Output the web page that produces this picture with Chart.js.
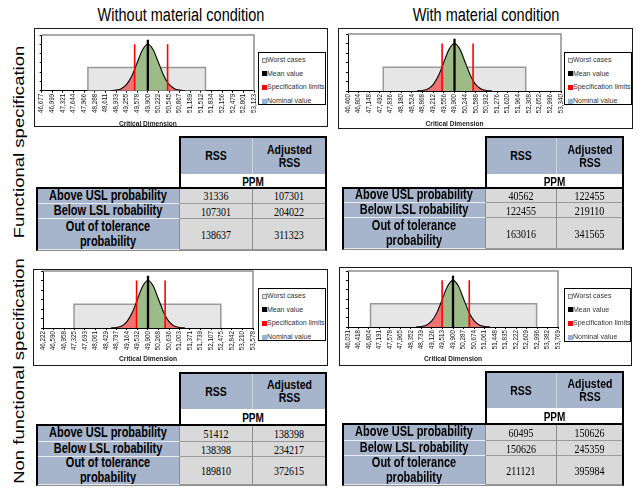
<!DOCTYPE html>
<html><head><meta charset="utf-8">
<script src="https://cdn.jsdelivr.net/npm/chart.js@4.4.1/dist/chart.umd.min.js"></script>
<style>
html,body{margin:0;padding:0;background:#fff;}
body{width:638px;height:489px;position:relative;overflow:hidden;font-family:"Liberation Sans",Arial,sans-serif;color:#000;}
.title{position:absolute;font-size:14.5px;line-height:1;white-space:nowrap;transform:translate(-50%,-50%) scaleY(1.3);}
.side{position:absolute;font-size:14.6px;line-height:1;white-space:nowrap;transform:translate(-50%,-50%) rotate(-90deg) scaleX(1.27);}
.frame{position:absolute;border:1px solid #1a1a1a;box-sizing:border-box;background:#fff;}
canvas{position:absolute;}
.legend{position:absolute;border:1px solid #000;box-sizing:border-box;background:#fff;}
.li{position:absolute;left:3px;height:8px;font-size:7px;line-height:8px;color:#333;white-space:nowrap;}
.sw{position:absolute;left:0;top:1.5px;width:5px;height:5px;box-sizing:border-box;}
.li .t{position:absolute;left:5px;top:0;}
.cell{position:absolute;box-sizing:border-box;display:flex;align-items:center;justify-content:center;text-align:center;overflow:hidden;white-space:pre-line;}
.cell span{display:inline-block;transform:scaleY(1.25);}
.hd{background:#a6b5cb;font-weight:bold;font-size:10.5px;line-height:11px;}
.lb{background:#a6b5cb;font-weight:bold;font-size:11px;line-height:11.5px;border-bottom:1px solid #e8ebf0;}
.pp{background:#fff;font-weight:bold;font-size:10px;}
.dv{background:#d9d9d9;font-family:"Liberation Serif","DejaVu Serif",serif;font-size:10px;border-right:1px solid #8c8c8c;border-bottom:1px solid #9a9a9a;}
.bx{position:absolute;box-sizing:border-box;}
</style></head><body>
<script>
Chart.defaults.font.family = '"Liberation Sans", Arial, sans-serif';

// ---------------- data ----------------
const MEAN = 49.9;
const SPEC_LIMITS = [49.5, 50.5];
const MEAN_LINE_TOP = 5.5;
const SPEC_LINE_TOP = 5.0;
const WORST_CASE_TOP = 2.5;
const Y_RANGE = [0, 6];

const columnTitles = ['Without material condition', 'With material condition'];
const rowTitles = ['Functional specification', 'Non functional specification'];
const legendLabels = ['Worst cases', 'Mean value', 'Specification limits', 'Nominal value'];
const axisTitle = 'Critical Dimension';
const colLabels = ['RSS', 'Adjusted\nRSS'];
const unitLabel = 'PPM';
const rowLabels = ['Above USL probability', 'Below LSL robability', 'Out of tolerance\nprobability'];

const ticksTL = ['46,677','46,999','47,321','47,644','47,966','48,288','48,611','48,933','49,255','49,578','49,900','50,222','50,545','50,867','51,189','51,512','51,834','52,156','52,479','52,801','53,123'];
const ticksTR = ['46,460','46,804','47,148','47,492','47,836','48,180','48,524','48,868','49,212','49,556','49,900','50,244','50,588','50,932','51,276','51,620','51,964','52,308','52,652','52,996','53,340'];
const ticksBL = ['46,222','46,590','46,958','47,325','47,693','48,061','48,429','48,797','49,164','49,532','49,900','50,268','50,636','51,003','51,371','51,739','52,107','52,475','52,842','53,210','53,578'];
const ticksBR = ['46,031','46,418','46,804','47,191','47,578','47,965','48,352','48,739','49,126','49,513','49,900','50,287','50,674','51,061','51,448','51,835','52,222','52,609','52,996','53,382','53,769'];

const curveX_TL = [48.772,48.933,49.094,49.255,49.417,49.5,49.578,49.739,49.9,50.061,50.222,50.383,50.5,50.545,50.706,50.867,51.028];
const curveY_TL = [0.01,0.06,0.22,0.68,1.62,2.31,3.03,4.41,5.0,4.41,3.03,1.62,0.88,0.68,0.22,0.06,0.01];
const curveX_TR = [48.696,48.868,49.040,49.212,49.384,49.5,49.556,49.728,49.9,50.072,50.244,50.416,50.5,50.588,50.760,50.932,51.104];
const curveY_TR = [0.01,0.06,0.22,0.68,1.62,2.54,3.03,4.41,5.0,4.41,3.03,1.62,1.09,0.68,0.22,0.06,0.01];
const curveX_BL = [48.613,48.797,48.981,49.164,49.348,49.5,49.532,49.716,49.9,50.084,50.268,50.452,50.5,50.636,50.819,51.003,51.187];
const curveY_BL = [0.01,0.06,0.22,0.68,1.62,2.77,3.03,4.41,5.0,4.41,3.03,1.62,1.32,0.68,0.22,0.06,0.01];
const curveX_BR = [48.546,48.739,48.933,49.126,49.320,49.5,49.513,49.707,49.9,50.094,50.287,50.481,50.5,50.674,50.868,51.061,51.255];
const curveY_BR = [0.01,0.06,0.22,0.68,1.62,2.93,3.03,4.41,5.0,4.41,3.03,1.62,1.50,0.68,0.22,0.06,0.01];

const worstTL = [48.08, 51.65];
const worstTR = [47.60, 52.20];
const worstBL = [47.31, 52.45];
const worstBR = [46.86, 52.98];

const rssTL = [31336, 107301, 138637];
const adjTL = [107301, 204022, 311323];
const rssTR = [40562, 122455, 163016];
const adjTR = [122455, 219110, 341565];
const rssBL = [51412, 138398, 189810];
const adjBL = [138398, 234217, 372615];
const rssBR = [60495, 150626, 211121];
const adjBR = [150626, 245359, 395984];

// ---------------- layout & style ----------------
const COLORS = {green:'#9dbb86', red:'#f07272', box:'#e6e6e6', boxBorder:'#999999', mean:'#000000', spec:'#ff0000', nominal:'#95b3d7'};
const legendSwatches = [
  {bg:COLORS.box, border:'1px solid #8c8c8c'},
  {bg:COLORS.mean, border:'none'},
  {bg:COLORS.spec, border:'none'},
  {bg:COLORS.nominal, border:'none'}
];
const panels = [
  {ticks:ticksTL, cx:curveX_TL, cy:curveY_TL, worst:worstTL, rss:rssTL, adj:adjTL,
   frame:[34,28,294,99], canvas:[35,29,222,99], pad:{left:3.7,right:3,top:6,bottom:0}, xh:37.3, legend:[258,52,68,53],
   table:{x:[37,180,253,326], yh:[137,174,188], rows:[188,204,219,250]}},
  {ticks:ticksTR, cx:curveX_TR, cy:curveY_TR, worst:worstTR, rss:rssTR, adj:adjTR,
   frame:[338,28,295,101], canvas:[339,29,226,99], pad:{left:6,right:4,top:5,bottom:0}, xh:37, legend:[564,52,68,53],
   table:{x:[343,486,557,623], yh:[137,174,188], rows:[188,203,218,249]}},
  {ticks:ticksBL, cx:curveX_BL, cy:curveY_BL, worst:worstBL, rss:rssBL, adj:adjBL,
   frame:[33,269,295,97], canvas:[35,267,221,96], pad:{left:5,right:3,top:4,bottom:0}, xh:35, legend:[258,288,68,53],
   table:{x:[37,180,253,326], yh:[373,409,425], rows:[425,442,457,485]}},
  {ticks:ticksBR, cx:curveX_BR, cy:curveY_BR, worst:worstBR, rss:rssBR, adj:adjBR,
   frame:[339,267,293,99], canvas:[340,267,221,96], pad:{left:5,right:3,top:4,bottom:0}, xh:36, legend:[564,288,67,54],
   table:{x:[343,486,557,623], yh:[372,408,424], rows:[424,441,456,485]}}
];
const titlePos = [[181,15],[486,15]];
const sidePos = [[19,142],[19,371]];

// ---------------- helpers ----------------
function el(tag, cls, style, html){
  const e = document.createElement(tag);
  if (cls) e.className = cls;
  if (style) Object.assign(e.style, style);
  if (html !== undefined) e.innerHTML = html;
  document.body.appendChild(e);
  return e;
}
function px(v){ return v + 'px'; }
function num(s){ return parseFloat(s.replace(',', '.')); }

const plotFrame = {
  id:'plotFrame',
  beforeDatasetsDraw(chart){
    const a = chart.chartArea, c = chart.ctx;
    c.save(); c.strokeStyle = '#8e8e8e'; c.lineWidth = 1.5;
    c.beginPath(); c.moveTo(a.left, a.top); c.lineTo(a.right, a.top); c.lineTo(a.right, a.bottom); c.stroke();
    c.restore();
  }
};

function makeChart(p){
  el('div','frame',{left:px(p.frame[0]),top:px(p.frame[1]),width:px(p.frame[2]),height:px(p.frame[3])});
  const cv = document.createElement('canvas');
  cv.width = p.canvas[2]; cv.height = p.canvas[3];
  Object.assign(cv.style,{left:px(p.canvas[0]),top:px(p.canvas[1]),width:px(p.canvas[2]),height:px(p.canvas[3])});
  document.body.appendChild(cv);
  const tv = p.ticks.map(num);
  const [LSL, USL] = SPEC_LIMITS;
  const iL = p.cx.indexOf(LSL), iU = p.cx.indexOf(USL);
  const curve = p.cx.map((x,i)=>({x, y:p.cy[i]}));
  new Chart(cv, {
    type:'line',
    data:{datasets:[
      {label:legendLabels[1], data:[{x:MEAN,y:0},{x:MEAN,y:MEAN_LINE_TOP}], borderColor:COLORS.mean, borderWidth:2.3, pointRadius:0, fill:false, order:1},
      {label:legendLabels[2], data:[{x:LSL,y:0},{x:LSL,y:SPEC_LINE_TOP},{x:(LSL+USL)/2,y:null},{x:USL,y:SPEC_LINE_TOP},{x:USL,y:0}], borderColor:COLORS.spec, borderWidth:1.6, pointRadius:0, fill:false, spanGaps:false, order:2},
      {label:'curve', data:curve, borderColor:'#000', borderWidth:1.1, pointRadius:0, fill:'origin', backgroundColor:COLORS.green, cubicInterpolationMode:'monotone',
       segment:{backgroundColor: c => (c.p1DataIndex <= iL || c.p0DataIndex >= iU) ? COLORS.red : COLORS.green}, order:3},
      {label:legendLabels[0], data:[{x:p.worst[0],y:0},{x:p.worst[0],y:WORST_CASE_TOP},{x:p.worst[1],y:WORST_CASE_TOP},{x:p.worst[1],y:0}], borderColor:COLORS.boxBorder, borderWidth:1.5, backgroundColor:COLORS.box, fill:'origin', pointRadius:0, tension:0, order:4}
    ]},
    options:{
      animation:false, responsive:false, maintainAspectRatio:false, devicePixelRatio:1,
      events:[],
      plugins:{legend:{display:false}, tooltip:{enabled:false}},
      layout:{padding:p.pad},
      scales:{
        x:{type:'linear', min:tv[0], max:tv[tv.length-1], z:1,
          afterBuildTicks: s => { s.ticks = tv.map(v => ({value:v})); },
          afterFit: s => { s.height = p.xh; s.paddingLeft = 0; s.paddingRight = 0; },
          ticks:{autoSkip:false, minRotation:90, maxRotation:90, font:{size:6.3}, color:'#111', padding:1, callback:(v,i)=>p.ticks[i]},
          grid:{drawOnChartArea:false, tickLength:2, color:'#000', lineWidth:1},
          border:{color:'#000', width:1},
          title:{display:true, text:axisTitle, font:{size:6.6, weight:'bold'}, color:'#222', padding:{top:0,bottom:0}}
        },
        y:{min:Y_RANGE[0], max:Y_RANGE[1], z:1,
          afterFit: s => { s.width = 3; },
          ticks:{display:false, stepSize:1},
          grid:{drawOnChartArea:false, tickLength:2, color:'#000', lineWidth:1},
          border:{color:'#000', width:1}
        }
      }
    },
    plugins:[plotFrame]
  });
  // legend
  const lg = el('div','legend',{left:px(p.legend[0]),top:px(p.legend[1]),width:px(p.legend[2]),height:px(p.legend[3])});
  legendLabels.forEach((t,i)=>{
    const li = document.createElement('div'); li.className='li'; li.style.top = px(3 + 13.7*i);
    const sw = document.createElement('div'); sw.className='sw'; sw.style.background = legendSwatches[i].bg; sw.style.border = legendSwatches[i].border;
    const tx = document.createElement('div'); tx.className='t'; tx.textContent = t;
    li.appendChild(sw); li.appendChild(tx); lg.appendChild(li);
  });
}

function cell(cls, x0, y0, x1, y1, text, extra){
  const c = el('div','cell '+cls,Object.assign({left:px(x0),top:px(y0),width:px(x1-x0),height:px(y1-y0)}, extra||{}));
  const s = document.createElement('span'); s.textContent = text; c.appendChild(s);
  return c;
}

function makeTable(p){
  const t = p.table, X = t.x, R = t.rows;
  cell('hd', X[1], t.yh[0], X[2], t.yh[1], colLabels[0], {borderRight:'1px solid #cdd4de'});
  cell('hd', X[2], t.yh[0], X[3], t.yh[1], colLabels[1]);
  cell('pp', X[1], t.yh[1], X[3], t.yh[2], unitLabel);
  for (let i=0;i<rowLabels.length;i++){
    cell('lb', X[0], R[i], X[1], R[i+1], rowLabels[i], {borderRight:'1px solid #8c8c8c'});
    cell('dv', X[1], R[i], X[2], R[i+1], String(p.rss[i]));
    cell('dv', X[2], R[i], X[3], R[i+1], String(p.adj[i]));
  }
  el('div','bx',{left:px(X[1]-1),top:px(t.yh[0]-1),width:px(X[3]-X[1]+2),height:px(t.yh[2]-t.yh[0]+1),borderTop:'2px solid #000',borderLeft:'2px solid #000',borderRight:'2px solid #000'});
  el('div','bx',{left:px(X[0]-1),top:px(R[0]-1),width:px(X[3]-X[0]+2),height:px(R[R.length-1]-R[0]+2),borderTop:'2px solid #000',borderLeft:'2px solid #000',borderRight:'2px solid #000',borderBottom:'1px solid #8c8c8c'});
}

columnTitles.forEach((t,i)=>{ el('div','title',{left:px(titlePos[i][0]),top:px(titlePos[i][1])}).textContent = t; });
rowTitles.forEach((t,i)=>{ el('div','side',{left:px(sidePos[i][0]),top:px(sidePos[i][1])}).textContent = t; });
panels.forEach(p => { makeChart(p); makeTable(p); });
</script>
</body></html>
